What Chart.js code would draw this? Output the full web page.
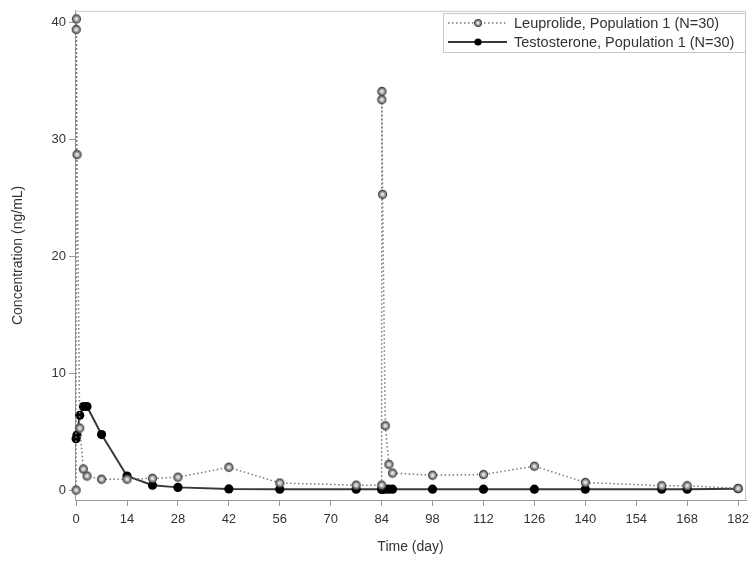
<!DOCTYPE html>
<html>
<head>
<meta charset="utf-8">
<script src="https://cdn.jsdelivr.net/npm/chart.js@4/dist/chart.umd.min.js"></script>
<style>
  html, body { margin: 0; padding: 0; background: #fff; }
  #wrap { width: 755px; height: 562px; }
</style>
</head>
<body>
<div id="wrap"><canvas id="c" width="755" height="562"></canvas></div>
<script>
// Mean concentration-time profiles (day vs ng/mL)
const leuDays = [0, 0.04, 0.08, 0.25, 1, 2, 3, 7, 14, 21, 28, 42, 56, 77, 84, 84.04, 84.08, 84.25, 85, 86, 87, 98, 112, 126, 140, 161, 168, 182];
const leuConc = [0, 39.4, 40.3, 28.7, 5.3, 1.8, 1.2, 0.93, 0.93, 1.0, 1.1, 1.95, 0.6, 0.42, 0.42, 33.4, 34.1, 25.3, 5.5, 2.2, 1.45, 1.27, 1.33, 2.04, 0.65, 0.37, 0.37, 0.14];

const testDays = [0, 0.25, 1, 2, 3, 7, 14, 21, 28, 42, 56, 77, 84, 84.04, 84.08, 84.25, 85, 86, 87, 98, 112, 126, 140, 161, 168, 182];
const testConc = [4.4, 4.7, 6.4, 7.15, 7.15, 4.75, 1.2, 0.42, 0.23, 0.1, 0.08, 0.08, 0.08, 0.08, 0.08, 0.08, 0.08, 0.08, 0.08, 0.08, 0.08, 0.08, 0.08, 0.08, 0.08, 0.12];

const xTicks = [0, 14, 28, 42, 56, 70, 84, 98, 112, 126, 140, 154, 168, 182];
const yTicks = [0, 10, 20, 30, 40];

const seriesNames = ['Leuprolide, Population 1 (N=30)', 'Testosterone, Population 1 (N=30)'];

const FONT = '"Liberation Sans", Arial, sans-serif';
const TEXT = '#333333';
const AXIS = '#9a9a9a';

const toPoints = (xs, ys) => xs.map((x, i) => ({ x: x, y: ys[i] }));

// Ringed open-circle marker used for the leuprolide series
function ringMarker(r) {
  const size = Math.ceil(r * 2 + 3);
  const cv = document.createElement('canvas');
  cv.width = size; cv.height = size;
  const g = cv.getContext('2d');
  const c = size / 2;
  g.beginPath();
  g.arc(c, c, r, 0, Math.PI * 2);
  g.fillStyle = '#a0a0a0';
  g.fill();
  g.lineWidth = 1.3;
  g.strokeStyle = '#474747';
  g.stroke();
  g.beginPath();
  g.arc(c, c, r * 0.42, 0, Math.PI * 2);
  g.fillStyle = '#e4e4e4';
  g.fill();
  return cv;
}
const leuMarker = ringMarker(4.0);
const leuLegendMarker = ringMarker(3.4);

// Light frame on the top and right of the plot area
const framePlugin = {
  id: 'frame',
  beforeDatasetsDraw(chart) {
    const { ctx, chartArea: a } = chart;
    ctx.save();
    ctx.strokeStyle = '#c8c8c8';
    ctx.lineWidth = 1;
    ctx.beginPath();
    ctx.moveTo(a.left, a.top + 0.5);
    ctx.lineTo(a.right - 0.5, a.top + 0.5);
    ctx.lineTo(a.right - 0.5, a.bottom);
    ctx.stroke();
    ctx.restore();
  }
};

// Boxed legend with line + marker samples in the upper right corner
const boxLegend = {
  id: 'boxLegend',
  afterDraw(chart) {
    const { ctx } = chart;
    const box = { x: 443.5, y: 13.5, w: 302, h: 39 };
    ctx.save();
    ctx.fillStyle = '#ffffff';
    ctx.fillRect(box.x, box.y, box.w, box.h);
    ctx.strokeStyle = '#c8c8c8';
    ctx.lineWidth = 1;
    ctx.strokeRect(box.x, box.y, box.w, box.h);
    const rows = [23, 42];
    chart.data.datasets.forEach((ds, i) => {
      const y = rows[i];
      ctx.save();
      ctx.strokeStyle = ds.borderColor;
      ctx.lineWidth = ds.borderWidth;
      ctx.setLineDash(ds.borderDash || []);
      ctx.beginPath();
      ctx.moveTo(448, y);
      ctx.lineTo(507, y);
      ctx.stroke();
      ctx.restore();
      if (i === 0) {
        const m = leuLegendMarker;
        ctx.drawImage(m, 478 - m.width / 2, y - m.height / 2);
      } else {
        ctx.beginPath();
        ctx.arc(478, y, 3.6, 0, Math.PI * 2);
        ctx.fillStyle = ds.pointBackgroundColor;
        ctx.fill();
      }
      ctx.fillStyle = TEXT;
      ctx.font = '14.5px ' + FONT;
      ctx.textBaseline = 'middle';
      ctx.textAlign = 'left';
      ctx.fillText(ds.label, 514, y + 0.5);
    });
    ctx.restore();
  }
};

new Chart(document.getElementById('c'), {
  type: 'scatter',
  data: {
    datasets: [
      {
        label: seriesNames[0],
        data: toPoints(leuDays, leuConc),
        showLine: true,
        borderColor: '#7a7a7a',
        borderWidth: 1.5,
        borderDash: [1.5, 2.5],
        pointStyle: leuMarker,
        pointRadius: 4,
        pointBorderColor: '#474747',
        pointBackgroundColor: '#a0a0a0',
        clip: false
      },
      {
        label: seriesNames[1],
        data: toPoints(testDays, testConc),
        showLine: true,
        borderColor: '#383838',
        borderWidth: 2,
        pointRadius: 4.6,
        pointBorderWidth: 0,
        pointBorderColor: '#000000',
        pointBackgroundColor: '#000000',
        clip: false
      }
    ]
  },
  options: {
    responsive: false,
    animation: false,
    devicePixelRatio: 1,
    layout: { padding: { top: 7, right: 5, left: 0, bottom: 0 } },
    plugins: { legend: { display: false }, tooltip: { enabled: false } },
    scales: {
      x: {
        type: 'linear',
        min: -0.3,
        max: 184.2,
        afterBuildTicks: s => { s.ticks = xTicks.map(v => ({ value: v })); },
        afterFit: s => { s.height = 62; },
        ticks: { color: TEXT, font: { family: FONT, size: 13 }, padding: 6, maxRotation: 0, autoSkip: false },
        grid: { drawOnChartArea: false, drawTicks: true, tickLength: 6, color: AXIS },
        border: { display: true, color: AXIS },
        title: { display: true, text: 'Time (day)', color: TEXT, font: { family: FONT, size: 14 }, padding: { top: 0, bottom: 6 } }
      },
      y: {
        type: 'linear',
        min: -0.85,
        max: 41,
        afterBuildTicks: s => { s.ticks = yTicks.map(v => ({ value: v })); },
        afterFit: s => { s.width = 75; },
        ticks: { color: TEXT, font: { family: FONT, size: 13 }, padding: 3 },
        grid: { drawOnChartArea: false, drawTicks: true, tickLength: 6, color: AXIS },
        border: { display: true, color: AXIS },
        title: { display: true, text: 'Concentration (ng/mL)', color: TEXT, font: { family: FONT, size: 14 }, padding: { top: 10, bottom: 0 } }
      }
    }
  },
  plugins: [framePlugin, boxLegend]
});
</script>
</body>
</html>
